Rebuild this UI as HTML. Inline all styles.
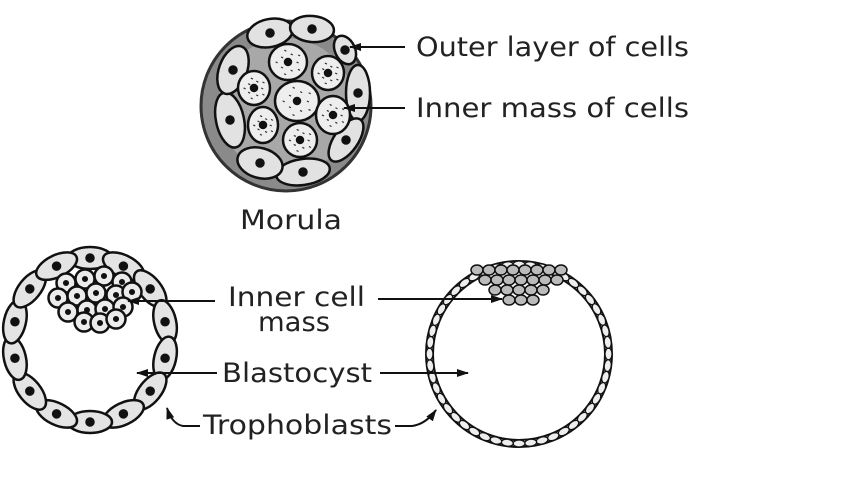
<!DOCTYPE html>
<html><head><style>
html,body{margin:0;padding:0;background:#fff;}
svg{display:block}
text{font-family:"DejaVu Sans","Liberation Sans",sans-serif;font-size:27px;fill:#222;}
</style></head><body>
<svg id="s" width="850" height="500" viewBox="0 0 850 500" xmlns="http://www.w3.org/2000/svg">
<defs><marker id="a" markerUnits="userSpaceOnUse" markerWidth="12" markerHeight="8" refX="11" refY="4" orient="auto"><path d="M0,0 L12,4 L0,8 z" fill="#111"/></marker></defs>
<circle cx="286" cy="106" r="85" fill="#8a8a8a" stroke="#333" stroke-width="3"/>
<circle cx="286" cy="106" r="68" fill="#a8a8a8"/>
<g id="morula" stroke="#111" stroke-width="2.5" fill="#e2e2e2"></g>
<g id="lb" stroke="#111" stroke-width="2.5" fill="#e4e4e4"></g>
<g id="rb" stroke="#111" stroke-width="2" fill="#ddd"></g>
<g stroke="#111" stroke-width="2" fill="none">
<line x1="405" y1="47" x2="350" y2="47" marker-end="url(#a)"/>
<line x1="405" y1="108" x2="344" y2="108" marker-end="url(#a)"/>
<line x1="215" y1="301" x2="128" y2="301" marker-end="url(#a)"/>
<line x1="378" y1="299" x2="502" y2="299" marker-end="url(#a)"/>
<line x1="217" y1="373" x2="137" y2="373" marker-end="url(#a)"/>
<line x1="380" y1="373" x2="468" y2="373" marker-end="url(#a)"/>
<path d="M200,426 L183,426 Q172,424 167,408" marker-end="url(#a)"/>
<path d="M395,426 L412,426 Q426,424 436,410" marker-end="url(#a)"/>
</g>
<text x="416" y="56" textLength="273" lengthAdjust="spacingAndGlyphs">Outer layer of cells</text>
<text x="416" y="117" textLength="273" lengthAdjust="spacingAndGlyphs">Inner mass of cells</text>
<text x="240" y="229" textLength="102" lengthAdjust="spacingAndGlyphs">Morula</text>
<text x="228" y="306" textLength="137" lengthAdjust="spacingAndGlyphs">Inner cell</text>
<text x="258" y="331" textLength="72" lengthAdjust="spacingAndGlyphs">mass</text>
<text x="222" y="382" textLength="150" lengthAdjust="spacingAndGlyphs">Blastocyst</text>
<text x="203" y="434" textLength="189" lengthAdjust="spacingAndGlyphs">Trophoblasts</text>
</svg>
<script>
const NS="http://www.w3.org/2000/svg";
function el(p,t,a){const e=document.createElementNS(NS,t);for(const k in a)e.setAttribute(k,a[k]);document.getElementById(p).appendChild(e);return e;}
const oc=[[270,33,23,14,-12],[312,29,22,13,5],[345,50,10,15,-25],[358,93,12,28,0],[346,140,12,25,35],[303,172,27,13,-8],[260,163,23,15,15],[230,120,14,28,-12],[233,70,14,25,20]];
oc.forEach(c=>{el("morula","ellipse",{cx:c[0],cy:c[1],rx:c[2],ry:c[3],transform:`rotate(${c[4]} ${c[0]} ${c[1]})`});el("morula","circle",{cx:c[0],cy:c[1],r:3.5,fill:"#111"});});
const ic=[[288,62,19,18],[328,73,16,17],[254,88,16,17],[297,101,22,20],[333,115,17,19],[263,125,15,18],[300,140,17,17]];
ic.forEach(c=>{el("morula","ellipse",{cx:c[0],cy:c[1],rx:c[2],ry:c[3],fill:"#eee"});el("morula","circle",{cx:c[0],cy:c[1],r:3,fill:"#111"});
for(let i=0;i<10;i++){const a=i*0.63,r=c[2]*(0.45+0.2*(i%2));el("morula","line",{x1:c[0]+r*Math.cos(a),y1:c[1]+r*Math.sin(a),x2:c[0]+r*Math.cos(a)+2,y2:c[1]+r*Math.sin(a)+1,stroke:"#333","stroke-width":1.2});}});
const cx=90,cy=340,rx=77,ry=82,n=14;
for(let i=0;i<n;i++){const a=-Math.PI/2+i*2*Math.PI/n;const x=cx+rx*Math.cos(a),y=cy+ry*Math.sin(a);
const deg=a*180/Math.PI+90;el("lb","ellipse",{cx:x,cy:y,rx:22,ry:11,transform:`rotate(${deg} ${x} ${y})`});el("lb","circle",{cx:x,cy:y,r:3.5,fill:"#111"});}
const icm=[[66,283],[85,279],[104,276],[122,282],[58,298],[77,296],[96,293],[116,295],[132,292],[68,312],[87,310],[105,309],[123,307],[84,322],[100,323],[116,319]];
icm.forEach(c=>{el("lb","circle",{cx:c[0],cy:c[1],r:9.5,fill:"#ececec"});el("lb","circle",{cx:c[0],cy:c[1],r:1.8,fill:"#111"});});
el("rb","circle",{cx:519,cy:354,r:93,fill:"none","stroke-width":2});
el("rb","circle",{cx:519,cy:354,r:86,fill:"none","stroke-width":2});
for(let i=0;i<48;i++){const a=i*2*Math.PI/48;const x=519+89.5*Math.cos(a),y=354+89.5*Math.sin(a);
el("rb","ellipse",{cx:x,cy:y,rx:6,ry:3.5,fill:"#eee","stroke-width":1.3,transform:`rotate(${a*180/Math.PI+90} ${x} ${y})`});}
for(let r=0;r<4;r++){const cnt=[8,7,5,3][r];for(let j=0;j<cnt;j++){const x=519-(cnt-1)*6+j*12+(r%2)*2,y=270+r*10;
el("rb","ellipse",{cx:x,cy:y,rx:6,ry:5,fill:"#bbb","stroke-width":1.5});}}
</script>
</body></html>
